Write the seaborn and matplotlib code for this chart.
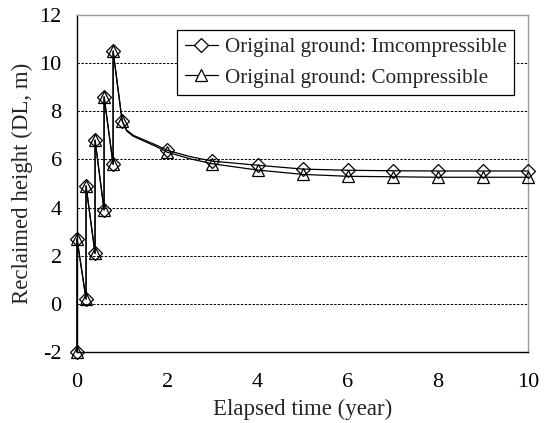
import matplotlib
matplotlib.use("Agg")
import matplotlib.pyplot as plt
from matplotlib.lines import Line2D
import numpy as np
import pandas as pd
import seaborn as sns

# Reclamation history: staged filling until ~0.8 year, then settlement
time = [0, 0, 0.2, 0.2, 0.4, 0.4, 0.6, 0.6, 0.8, 0.8, 1.0,
        1.1, 1.25, 1.5, 1.75, 2, 2.5, 3, 4, 5, 6, 7, 8, 9, 10]
incompressible = [-2.0, 2.7, 0.2, 4.9, 2.1, 6.8, 3.9, 8.6, 5.8, 10.5, 7.6,
                  7.22, 7.0, 6.8, 6.6, 6.38, 6.12, 5.93, 5.76, 5.6, 5.55,
                  5.53, 5.52, 5.52, 5.52]
compressible = [-2.0, 2.7, 0.2, 4.9, 2.1, 6.8, 3.9, 8.6, 5.8, 10.5, 7.6,
                7.18, 6.96, 6.75, 6.54, 6.3, 6.03, 5.82, 5.56, 5.38, 5.3,
                5.28, 5.26, 5.26, 5.26]
# samples that carry a marker (the rest only shape the curve)
marked_times = [0, 0.2, 0.4, 0.6, 0.8, 1.0, 2, 3, 4, 5, 6, 7, 8, 9, 10]

labels = ["Original ground: Imcompressible", "Original ground: Compressible"]
x_ticks = [0, 2, 4, 6, 8, 10]
y_ticks = [-2, 0, 2, 4, 6, 8, 10, 12]

sns.set_theme(style="white")
plt.rcParams["font.family"] = ["Liberation Serif", "DejaVu Serif"]
plt.rcParams["font.size"] = 15

df = pd.DataFrame({"time": time, "inc": incompressible, "comp": compressible})
mark_idx = [i for i, t in enumerate(time) if t in marked_times]

fig = plt.figure(figsize=(5.52, 4.23), dpi=100)
ax = fig.add_axes([0.1395, 0.1678, 0.8175, 0.7967])

styles = [("inc", "D", 7), ("comp", "^", 9)]
for col, mk, ms in styles:
    sns.lineplot(data=df, x="time", y=col, ax=ax, estimator=None, sort=False,
                 color="black", linewidth=0.9, marker=mk, markersize=ms,
                 markevery=mark_idx, markerfacecolor="none",
                 markeredgecolor="black", markeredgewidth=0.9, legend=False,
                 clip_on=False, zorder=3)

ax.set_xlim(0, 10)
ax.set_ylim(-2, 12)
ax.set_xticks(x_ticks)
ax.set_yticks(y_ticks)
ax.set_xticklabels([str(v) for v in x_ticks])
ax.set_yticklabels([str(v) for v in y_ticks])
ax.tick_params(axis="both", direction="in", length=4, width=0.8,
               colors="black", labelsize=16)
ax.tick_params(axis="y", pad=11)
ax.tick_params(axis="x", pad=15)

ax.yaxis.grid(True, color="black", linestyle=(0, (2.5, 1.5)), linewidth=0.7)
for gl, v in zip(ax.yaxis.get_gridlines(), y_ticks):
    if v in (-2, 12):
        gl.set_visible(False)
ax.set_axisbelow(True)

for side in ("left", "bottom"):
    ax.spines[side].set_color("black")
    ax.spines[side].set_linewidth(1.0)
for side in ("top", "right"):
    ax.spines[side].set_color("#9a9a9a")
    ax.spines[side].set_linewidth(1.0)

ax.set_xlabel("Elapsed time (year)", fontsize=16.5, labelpad=5)
ax.set_ylabel("Reclaimed height (DL, m)", fontsize=16.5, labelpad=5)

handles = [
    Line2D([], [], color="black", lw=0.9, marker="D", ms=7,
           mfc="white", mec="black", mew=0.9),
    Line2D([], [], color="black", lw=0.9, marker="^", ms=9,
           mfc="white", mec="black", mew=0.9),
]
leg = ax.legend(handles, labels, loc="upper left",
                bbox_to_anchor=(0.222, 0.955), frameon=True, fancybox=False,
                edgecolor="black", framealpha=1, fontsize=15.2,
                handlelength=1.6, handletextpad=0.3, borderpad=0.35,
                labelspacing=0.5, borderaxespad=0)
leg.get_frame().set_linewidth(0.9)

fig.savefig("out.png", dpi=100, facecolor="white")
